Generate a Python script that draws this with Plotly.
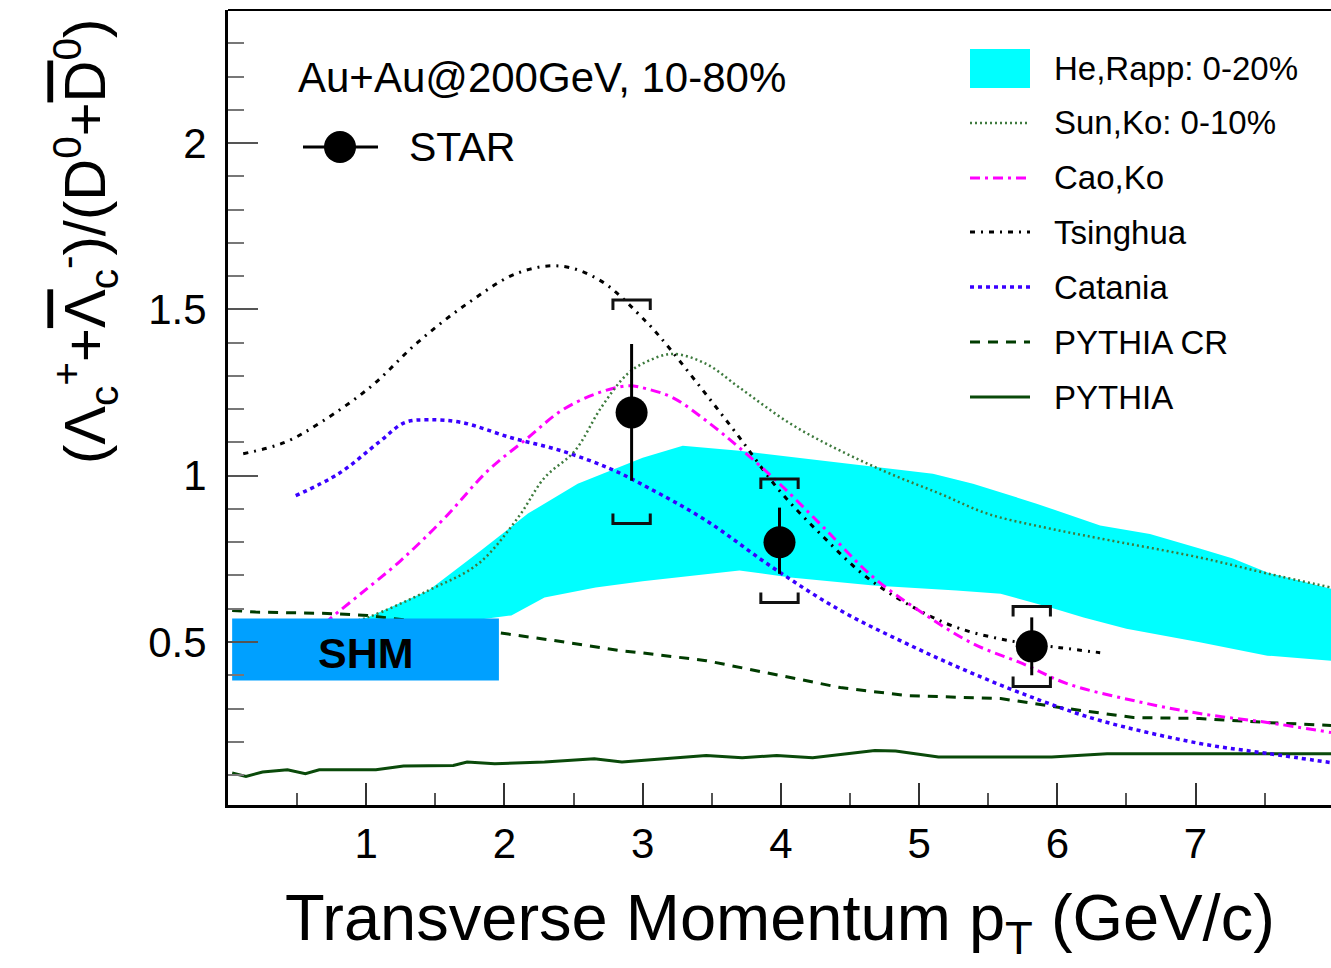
import plotly.graph_objects as go

# ---------------- data ----------------
star_pt = [2.92, 3.99, 5.815]
star_ratio = [1.19, 0.80, 0.487]
star_stat_hi = [1.396, 0.904, 0.574]
star_stat_lo = [0.985, 0.705, 0.400]
star_sys_hi = [1.528, 0.990, 0.607]
star_sys_lo = [0.856, 0.619, 0.366]

herapp_up_pt = [0.9, 1.01, 1.45, 1.83, 2.17, 2.53, 3.0, 3.29, 3.70, 4.43, 5.10, 5.39, 5.59, 5.85, 6.31, 6.67, 7.03, 7.27, 7.52, 7.98]
herapp_up = [0.565, 0.574, 0.655, 0.775, 0.886, 0.976, 1.054, 1.09, 1.075, 1.04, 1.006, 0.976, 0.949, 0.916, 0.85, 0.825, 0.781, 0.751, 0.709, 0.66]
herapp_lo_pt = [0.9, 1.5, 2.05, 2.29, 2.66, 3.0, 3.70, 4.07, 4.67, 5.27, 5.59, 5.95, 6.19, 6.5, 7.03, 7.52, 7.98]
herapp_lo = [0.565, 0.55, 0.58, 0.634, 0.664, 0.683, 0.715, 0.694, 0.67, 0.655, 0.645, 0.604, 0.574, 0.54, 0.499, 0.459, 0.444]

sunko_pt = [0.8, 1.01, 1.45, 1.81, 2.10, 2.29, 2.51, 2.70, 2.89, 3.04, 3.22, 3.46, 3.70, 4.07, 4.43, 4.79, 5.15, 5.5, 5.9, 6.3, 7.03, 7.52, 7.98]
sunko = [0.55, 0.574, 0.655, 0.735, 0.875, 0.994, 1.075, 1.205, 1.306, 1.345, 1.366, 1.336, 1.265, 1.156, 1.075, 1.006, 0.946, 0.885, 0.845, 0.812, 0.754, 0.706, 0.664]

caoko_pt = [0.7, 0.75, 0.96, 1.25, 1.57, 1.88, 2.17, 2.41, 2.66, 2.89, 3.03, 3.22, 3.46, 3.70, 3.99, 4.31, 4.67, 5.03, 5.39, 5.75, 6.07, 6.55, 7.03, 7.52, 7.98]
caoko = [0.555, 0.574, 0.645, 0.745, 0.874, 1.015, 1.114, 1.195, 1.246, 1.27, 1.261, 1.234, 1.165, 1.084, 0.976, 0.844, 0.694, 0.586, 0.495, 0.435, 0.375, 0.324, 0.285, 0.258, 0.228]

tsinghua_pt = [0.11, 0.41, 0.67, 1.04, 1.37, 1.74, 2.10, 2.41, 2.70, 3.02, 3.13, 3.42, 3.70, 3.99, 4.31, 4.62, 4.96, 5.27, 5.64, 6.02, 6.31]
tsinghua = [1.066, 1.10, 1.16, 1.27, 1.40, 1.52, 1.61, 1.63, 1.585, 1.465, 1.415, 1.265, 1.115, 0.955, 0.815, 0.695, 0.604, 0.544, 0.505, 0.483, 0.468]

catania_pt = [0.49, 0.80, 1.09, 1.28, 1.45, 1.69, 2.05, 2.41, 2.77, 3.04, 3.46, 3.94, 4.43, 4.91, 5.39, 5.88, 6.31, 7.03, 7.52, 7.97]
catania = [0.94, 1.006, 1.10, 1.16, 1.168, 1.16, 1.114, 1.075, 1.02, 0.964, 0.865, 0.724, 0.595, 0.495, 0.405, 0.324, 0.264, 0.195, 0.165, 0.138]

pythia_cr_pt = [0.03, 0.2, 0.72, 1.01, 1.5, 1.97, 2.35, 2.84, 2.98, 3.46, 3.94, 4.43, 4.91, 5.39, 5.59, 6.07, 6.55, 7.03, 7.52, 7.98]
pythia_cr = [0.595, 0.59, 0.586, 0.58, 0.555, 0.528, 0.505, 0.474, 0.468, 0.444, 0.405, 0.363, 0.339, 0.333, 0.33, 0.30, 0.273, 0.27, 0.258, 0.249]

pythia_pt = [0.03, 0.13, 0.25, 0.43, 0.56, 0.66, 1.07, 1.27, 1.63, 1.73, 1.93, 2.29, 2.65, 2.85, 3.06, 3.46, 3.72, 3.97, 4.23, 4.48, 4.68, 4.83, 5.14, 5.96, 6.36, 7.98]
pythia = [0.106, 0.096, 0.109, 0.116, 0.104, 0.116, 0.116, 0.127, 0.129, 0.139, 0.134, 0.139, 0.149, 0.139, 0.146, 0.159, 0.152, 0.159, 0.152, 0.164, 0.174, 0.172, 0.154, 0.154, 0.164, 0.164]

shm_pt = [0.03, 1.96]
shm_ratio = [0.384, 0.571]

x_ticks = [1, 2, 3, 4, 5, 6, 7]
y_ticks = [0.5, 1, 1.5, 2]
y_tick_text = ["0.5", "1", "1.5", "2"]

legend_labels = ["He,Rapp: 0-20%", "Sun,Ko: 0-10%", "Cao,Ko", "Tsinghua", "Catania", "PYTHIA CR", "PYTHIA"]

# ---------------- layout helpers ----------------
W, H = 1331, 968
ML, MR, MT, MB = 228, 0, 10, 163
PW, PH = W - ML - MR, H - MT - MB
FONT = "Liberation Sans, Arial, Helvetica, sans-serif"


def pxx(px):
    return (px - ML) / PW


def pxy(py):
    return (H - MB - py) / PH


CYAN = "#00FFFF"
SUN_C = "#3d7a3d"
CAO_C = "#FF00FF"
TSI_C = "#000000"
CAT_C = "#3A00FF"
CR_C = "#003c00"
PY_C = "#0a4a0a"

SUN_D = "2px,3px"
CAO_D = "10px,5px,3px,5px"
TSI_D = "5px,6px,2px,6px"
CAT_D = "4px,4px"
CR_D = "10px,8px"

fig = go.Figure()

# He,Rapp band
fig.add_trace(go.Scatter(
    x=herapp_up_pt + herapp_lo_pt[::-1],
    y=herapp_up + herapp_lo[::-1],
    fill="toself", fillcolor=CYAN, line=dict(width=0), mode="lines",
    showlegend=False, hoverinfo="skip"))

fig.add_trace(go.Scatter(x=pythia_pt, y=pythia, mode="lines",
                         line=dict(color=PY_C, width=3), showlegend=False))
fig.add_trace(go.Scatter(x=pythia_cr_pt, y=pythia_cr, mode="lines",
                         line=dict(color=CR_C, width=3, dash=CR_D), showlegend=False))
fig.add_trace(go.Scatter(x=catania_pt, y=catania, mode="lines",
                         line=dict(color=CAT_C, width=3.5, dash=CAT_D, shape="spline"), showlegend=False))
fig.add_trace(go.Scatter(x=tsinghua_pt, y=tsinghua, mode="lines",
                         line=dict(color=TSI_C, width=3, dash=TSI_D, shape="spline"), showlegend=False))
fig.add_trace(go.Scatter(x=caoko_pt, y=caoko, mode="lines",
                         line=dict(color=CAO_C, width=3, dash=CAO_D, shape="spline"), showlegend=False))
fig.add_trace(go.Scatter(x=sunko_pt, y=sunko, mode="lines",
                         line=dict(color=SUN_C, width=2.5, dash=SUN_D, shape="spline"), showlegend=False))

# SHM box
fig.add_trace(go.Scatter(
    x=[shm_pt[0], shm_pt[1], shm_pt[1], shm_pt[0], shm_pt[0]],
    y=[shm_ratio[0], shm_ratio[0], shm_ratio[1], shm_ratio[1], shm_ratio[0]],
    fill="toself", fillcolor="#00A0FF", line=dict(width=0), mode="lines",
    showlegend=False, hoverinfo="skip"))

# STAR systematic brackets
dx = 0.135
dy = 0.03
bx, by = [], []
for x, hi, lo in zip(star_pt, star_sys_hi, star_sys_lo):
    bx += [x - dx, x - dx, x + dx, x + dx, None]
    by += [hi - dy, hi, hi, hi - dy, None]
    bx += [x - dx, x - dx, x + dx, x + dx, None]
    by += [lo + dy, lo, lo, lo + dy, None]
fig.add_trace(go.Scatter(x=bx, y=by, mode="lines", line=dict(color="#111111", width=3),
                         showlegend=False, hoverinfo="skip"))

# STAR points
fig.add_trace(go.Scatter(
    x=star_pt, y=star_ratio, mode="markers",
    marker=dict(size=32, color="black"),
    error_y=dict(type="data", symmetric=False,
                 array=[h - v for h, v in zip(star_stat_hi, star_ratio)],
                 arrayminus=[v - l for l, v in zip(star_stat_lo, star_ratio)],
                 color="black", thickness=3, width=0),
    showlegend=False))

shapes = []
annotations = []

# top frame line
shapes.append(dict(type="line", xref="paper", yref="paper", x0=0, x1=1, y0=1, y1=1,
                   line=dict(color="black", width=2)))

# legend (right)
row_y = [69, 123, 178, 232, 287, 342, 397]
lx0, lx1, tx = 970, 1030, 1052
shapes.append(dict(type="rect", xref="paper", yref="paper",
                   x0=pxx(lx0), x1=pxx(lx1), y0=pxy(88), y1=pxy(49),
                   fillcolor=CYAN, line=dict(width=0)))
styles = [(SUN_C, SUN_D, 2.5), (CAO_C, CAO_D, 3), (TSI_C, TSI_D, 3),
          (CAT_C, CAT_D, 3.5), (CR_C, CR_D, 3), (PY_C, "solid", 3)]
for (c, d, w), yy in zip(styles, row_y[1:]):
    shapes.append(dict(type="line", xref="paper", yref="paper",
                       x0=pxx(lx0), x1=pxx(lx1), y0=pxy(yy), y1=pxy(yy),
                       line=dict(color=c, width=w, dash=d)))
for lab, yy in zip(legend_labels, row_y):
    annotations.append(dict(text=lab, xref="paper", yref="paper", x=pxx(tx), y=pxy(yy),
                            xanchor="left", yanchor="middle", showarrow=False,
                            font=dict(family=FONT, size=33, color="black")))

# STAR legend (top-left)
shapes.append(dict(type="line", xref="paper", yref="paper", x0=pxx(303), x1=pxx(378),
                   y0=pxy(147), y1=pxy(147), line=dict(color="black", width=3)))
shapes.append(dict(type="circle", xref="paper", yref="paper", x0=pxx(324), x1=pxx(356),
                   y0=pxy(163), y1=pxy(131), fillcolor="black", line=dict(width=0)))
annotations.append(dict(text="STAR", xref="paper", yref="paper", x=pxx(407), y=pxy(147),
                        xanchor="left", yanchor="middle", showarrow=False,
                        font=dict(family=FONT, size=41, color="black")))
annotations.append(dict(text="Au+Au@200GeV, 10-80%", xref="paper", yref="paper",
                        x=pxx(296), y=pxy(78), xanchor="left", yanchor="middle", showarrow=False,
                        font=dict(family=FONT, size=42, color="black")))

# SHM label
annotations.append(dict(text="<b>SHM</b>", xref="x", yref="y",
                        x=(shm_pt[0] + shm_pt[1]) / 2, y=(shm_ratio[0] + shm_ratio[1]) / 2,
                        xanchor="center", yanchor="middle", showarrow=False, yshift=-4,
                        font=dict(family=FONT, size=43, color="black")))

# axis titles
annotations.append(dict(text="Transverse Momentum p<sub>T</sub> (GeV/c)", xref="paper", yref="paper",
                        x=0.5, y=pxy(922), xanchor="center", yanchor="middle", showarrow=False,
                        font=dict(family=FONT, size=65, color="black")))
ytitle = ("(Λ<sub>c</sub><sup>+</sup>+<span style='text-decoration:overline'>Λ</span><sub>c</sub><sup>-</sup>)"
          "/(D<sup>0</sup>+<span style='text-decoration:overline'>D</span><sup>0</sup>)")
annotations.append(dict(text=ytitle, xref="paper", yref="paper",
                        x=pxx(85), y=pxy(242), xanchor="center", yanchor="middle",
                        textangle=-90, showarrow=False,
                        font=dict(family=FONT, size=58, color="black")))

fig.update_layout(
    width=W, height=H,
    margin=dict(l=ML, r=MR, t=MT, b=MB, pad=0),
    paper_bgcolor="white", plot_bgcolor="white",
    showlegend=False,
    shapes=shapes, annotations=annotations,
    xaxis=dict(range=[0, 7.98], showgrid=False, zeroline=False,
               showline=True, linecolor="black", linewidth=3,
               tickvals=x_ticks, ticks="inside", ticklen=22, tickwidth=2, tickcolor="#333333",
               ticklabelstandoff=0,
               tickfont=dict(family=FONT, size=42, color="black"),
               minor=dict(dtick=0.5, tick0=0, ticks="inside", ticklen=12, tickwidth=2,
                          tickcolor="#555555", showgrid=False)),
    yaxis=dict(range=[0.01, 2.4], showgrid=False, zeroline=False,
               showline=True, linecolor="black", linewidth=3,
               tickvals=y_ticks, ticktext=y_tick_text, ticks="inside", ticklen=30, tickwidth=2,
               tickcolor="#555555", ticklabelstandoff=10,
               tickfont=dict(family=FONT, size=42, color="black"),
               minor=dict(dtick=0.1, tick0=0, ticks="inside", ticklen=16, tickwidth=2,
                          tickcolor="#777777", showgrid=False)),
)

fig.write_html("out.html")
